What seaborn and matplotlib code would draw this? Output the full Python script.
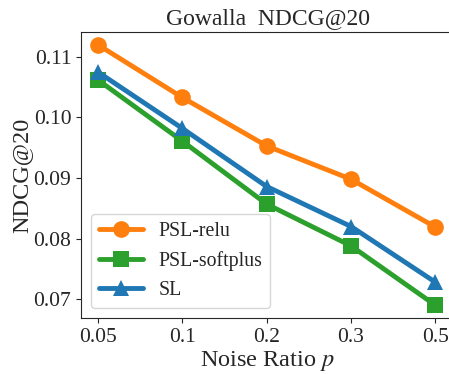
import pandas as pd
import matplotlib.pyplot as plt
import seaborn as sns

noise = ['0.05', '0.1', '0.2', '0.3', '0.5']
psl_relu = [0.1120, 0.1033, 0.0953, 0.0898, 0.0819]
psl_softplus = [0.1062, 0.0961, 0.0857, 0.0788, 0.0690]
sl = [0.1075, 0.0982, 0.0886, 0.0820, 0.0728]

series = [('PSL-relu', psl_relu, '#ff7f0e', 'o'),
          ('PSL-softplus', psl_softplus, '#2ca02c', 's'),
          ('SL', sl, '#1f77b4', '^')]

sns.set_style('ticks')
plt.rcParams['font.family'] = ['Liberation Serif', 'DejaVu Serif']
plt.rcParams['mathtext.fontset'] = 'stix'

fig = plt.figure(figsize=(4.49, 3.74), dpi=100)
# right edge of the axes sits just past the image border, as in the reference
ax = fig.add_axes([81 / 449, (374 - 318) / 374, (454 - 81) / 449, (318 - 32) / 374])

for name, vals, color, mk in series:
    df = pd.DataFrame({'x': range(len(noise)), 'y': vals})
    sns.lineplot(data=df, x='x', y='y', ax=ax, color=color, marker=mk,
                 markersize=12, linewidth=3.5, markeredgewidth=0, label=name)

ax.set_xticks(range(len(noise)))
ax.set_xticklabels(noise)
ax.set_xlim(-0.2, 4.22)
ax.set_ylim(0.0669, 0.1141)
ax.set_yticks([0.07, 0.08, 0.09, 0.10, 0.11])
ax.set_yticklabels(['0.07', '0.08', '0.09', '0.10', '0.11'])
ax.tick_params(labelsize=15.5)
ax.set_xlabel('Noise Ratio $p$', fontsize=17.5, labelpad=1.5)
ax.set_ylabel('NDCG@20', fontsize=17.5, labelpad=0.5)
ax.set_title('Gowalla  NDCG@20', fontsize=17)
ax.legend(loc='lower left', fontsize=14.3, handlelength=2.2)

fig.savefig('out.png', dpi=100)
